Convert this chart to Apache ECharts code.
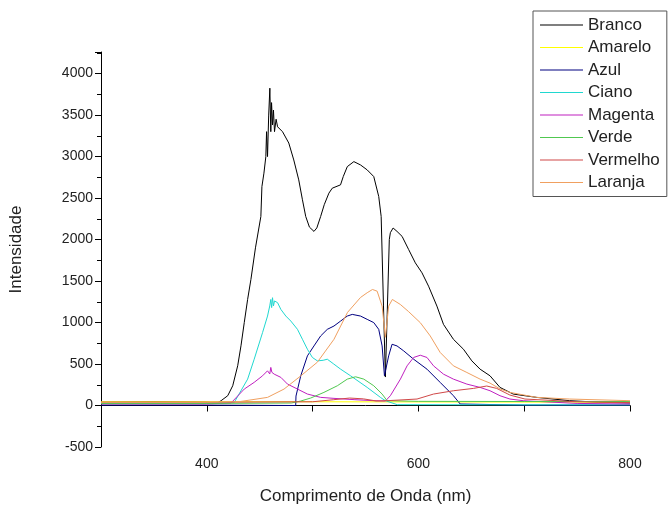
<!DOCTYPE html>
<html>
<head>
<meta charset="utf-8">
<script src="https://cdn.jsdelivr.net/npm/echarts@6/dist/echarts.min.js"></script>
<style>
  html, body { margin: 0; padding: 0; background: #fff; }
  #chart { width: 672px; height: 510px; }
</style>
</head>
<body>
<div id="chart"></div>
<script>
const seriesNames = ["Branco", "Amarelo", "Azul", "Ciano", "Magenta", "Verde", "Vermelho", "Laranja"];
const seriesColors = ["#000000", "#ffff00", "#000080", "#20d8d0", "#c020c0", "#50c850", "#d04848", "#f0a060"];

const brancoX = [300, 350, 400, 410, 413.5, 419.8, 424.5, 429.2, 432.3, 435.4, 438.6, 441.7, 446, 451.1, 452.1, 454, 455.8, 456.5, 457.4, 458.5, 459.6, 460.5, 461.2, 462.1, 463, 464, 465.5, 466.9, 471.6, 477.5, 482.2, 486.9, 490.4, 493.5, 497, 501.3, 504, 507.6, 511, 515.4, 518.6, 526.4, 529, 532.8, 539, 545.3, 551.6, 557.8, 562.5, 564.8, 567, 568.8, 570.5, 572.5, 573.5, 576.1, 579.8, 584.6, 590.8, 597.1, 603.4, 609.6, 617.5, 623.7, 633.1, 642.6, 650.5, 658.3, 667.7, 677.1, 689.6, 711.7, 743, 770, 800];
const brancoY = [40, 45, 40, 30, 58, 118, 238, 479, 719, 999, 1279, 1519, 1900, 2278, 2638, 2800, 2999, 3300, 3000, 3500, 3824, 3300, 3650, 3380, 3560, 3300, 3450, 3359, 3299, 3163, 2959, 2719, 2479, 2278, 2150, 2098, 2140, 2278, 2420, 2559, 2619, 2659, 2760, 2879, 2939, 2899, 2839, 2759, 2519, 2278, 1200, 343, 1100, 2000, 2083, 2139, 2098, 2038, 1879, 1719, 1599, 1438, 1198, 978, 798, 678, 538, 438, 358, 218, 138, 98, 58, 40, 30];

const amareloX = [300, 500, 800];
const amareloY = [45, 45, 40];

const azulX = [300, 400, 484, 484.3, 488.8, 495.1, 501.3, 507.6, 513.9, 520.2, 526.5, 532.8, 537.5, 545.3, 551.6, 557.8, 562.5, 565.7, 567.9, 571.9, 575.1, 579.8, 586.1, 595.5, 608.1, 620.6, 633.1, 639.5, 700, 800];
const azulY = [5, 5, 0, 114, 358, 598, 718, 838, 918, 958, 1018, 1078, 1098, 1078, 1038, 999, 918, 718, 358, 598, 738, 718, 658, 558, 438, 278, 118, 18, 5, 5];

const cianoX = [300, 400, 426, 438.6, 444.8, 452.7, 457.4, 459.5, 460.5, 461.3, 462.1, 463, 464, 466.9, 470, 474.7, 479.4, 485.7, 490.4, 495.1, 499.8, 504.5, 510, 513.9, 520, 526.5, 535.9, 551.6, 564.1, 568.8, 580, 700, 800];
const cianoY = [30, 30, 38, 318, 558, 879, 1078, 1200, 1278, 1180, 1299, 1200, 1260, 1239, 1158, 1078, 1018, 918, 798, 678, 579, 538, 545, 558, 500, 438, 358, 218, 98, 58, 10, 8, 8];

const magentaX = [300, 400, 422.9, 435.4, 444.8, 452.7, 457.4, 459.5, 460.5, 461.5, 463.7, 470, 476.3, 485.7, 495.1, 507.6, 520.2, 540, 557.8, 568.8, 573.5, 583, 589.3, 595.5, 601.8, 608.1, 614.3, 623.7, 633.1, 645.8, 658.3, 667.7, 677.1, 686.5, 699.1, 750, 800];
const magentaY = [20, 20, 30, 198, 279, 358, 418, 380, 459, 400, 378, 339, 258, 198, 138, 98, 86, 70, 58, 54, 118, 318, 478, 579, 606, 579, 478, 378, 318, 258, 218, 178, 118, 78, 58, 25, 18];

const verdeX = [300, 400, 480, 488.8, 498.2, 510.7, 523.4, 532.8, 540.6, 548.4, 557.8, 565.7, 570.4, 600, 700, 800];
const verdeY = [25, 25, 30, 54, 90, 158, 238, 318, 346, 318, 238, 138, 58, 50, 48, 48];

const vermelhoX = [300, 400, 500, 520, 535, 548, 560, 570.4, 598.7, 614.3, 633.1, 652, 664.6, 674, 686.5, 700.7, 750, 800];
const vermelhoY = [40, 40, 45, 70, 90, 80, 55, 58, 78, 138, 178, 206, 235, 206, 126, 78, 45, 35];

const laranjaX = [300, 400, 430, 457.4, 473, 488.8, 504.5, 520.2, 533, 545.3, 551.6, 556.6, 561, 565.7, 568.8, 571.9, 575.4, 582.9, 590.5, 601.8, 611.2, 620.6, 633.1, 645.8, 658.3, 667.7, 677.1, 686.5, 711.7, 743, 800];
const laranjaY = [38, 38, 45, 98, 198, 357, 522, 798, 1122, 1302, 1359, 1398, 1378, 1198, 822, 1198, 1278, 1218, 1134, 998, 838, 639, 478, 398, 318, 270, 200, 158, 98, 78, 58];

const xTickLabels = [400, 600, 800];

const allX = [brancoX, amareloX, azulX, cianoX, magentaX, verdeX, vermelhoX, laranjaX];
const allY = [brancoY, amareloY, azulY, cianoY, magentaY, verdeY, vermelhoY, laranjaY];

function zip(xs, ys) {
  let out = [];
  for (let i = 0; i < xs.length; i++) {
    out.push([xs[i], ys[i]]);
  }
  return out;
}

const font = "Liberation Sans";
const chart = echarts.init(document.getElementById("chart"));

const series = seriesNames.map(function(name, i) {
  return {
    name: name,
    type: "line",
    symbol: "none",
    showSymbol: false,
    animation: false,
    color: seriesColors[i],
    lineStyle: { width: 1, color: seriesColors[i] },
    data: zip(allX[i], allY[i])
  };
});

const option = {
  backgroundColor: "#fff",
  animation: false,
  grid: { left: 100, right: 42, top: 52, bottom: 62 },
  legend: {
    orient: "vertical",
    left: 533,
    top: 11,
    padding: [4, 7, 4, 7],
    icon: "rect",
    itemWidth: 43,
    itemHeight: 1,
    itemGap: 2.5,
    borderColor: "#555",
    borderWidth: 1,
    backgroundColor: "#fff",
    textStyle: { fontFamily: font, fontSize: 17, lineHeight: 20, color: "#222" },
    data: seriesNames
  },
  xAxis: {
    type: "value",
    min: 300,
    max: 800,
    interval: 100,
    name: "Comprimento de Onda (nm)",
    nameLocation: "middle",
    nameGap: 41,
    nameTextStyle: { fontFamily: font, fontSize: 17, color: "#222" },
    axisLine: { lineStyle: { color: "#000", width: 1 } },
    axisTick: { show: true, length: 6, lineStyle: { color: "#000" } },
    axisLabel: {
      fontFamily: font,
      fontSize: 14,
      color: "#222",
      margin: 10,
      formatter: function(v) {
        return xTickLabels.includes(v) ? String(v) : "";
      }
    },
    splitLine: { show: false }
  },
  yAxis: {
    type: "value",
    min: -500,
    max: 4260,
    interval: 500,
    name: "Intensidade",
    nameLocation: "middle",
    nameGap: 76,
    nameRotate: 90,
    nameTextStyle: { fontFamily: font, fontSize: 17, color: "#222" },
    axisLine: { show: true, lineStyle: { color: "#000", width: 1 } },
    axisTick: { show: true, length: 6, lineStyle: { color: "#000" } },
    minorTick: { show: true, splitNumber: 2, length: 4, lineStyle: { color: "#000" } },
    axisLabel: {
      fontFamily: font,
      fontSize: 14,
      color: "#222",
      margin: 8,
      formatter: function(v) {
        return v > 4100 ? "" : String(v);
      }
    },
    splitLine: { show: false }
  },
  series: series
};

chart.setOption(option);
</script>
</body>
</html>
